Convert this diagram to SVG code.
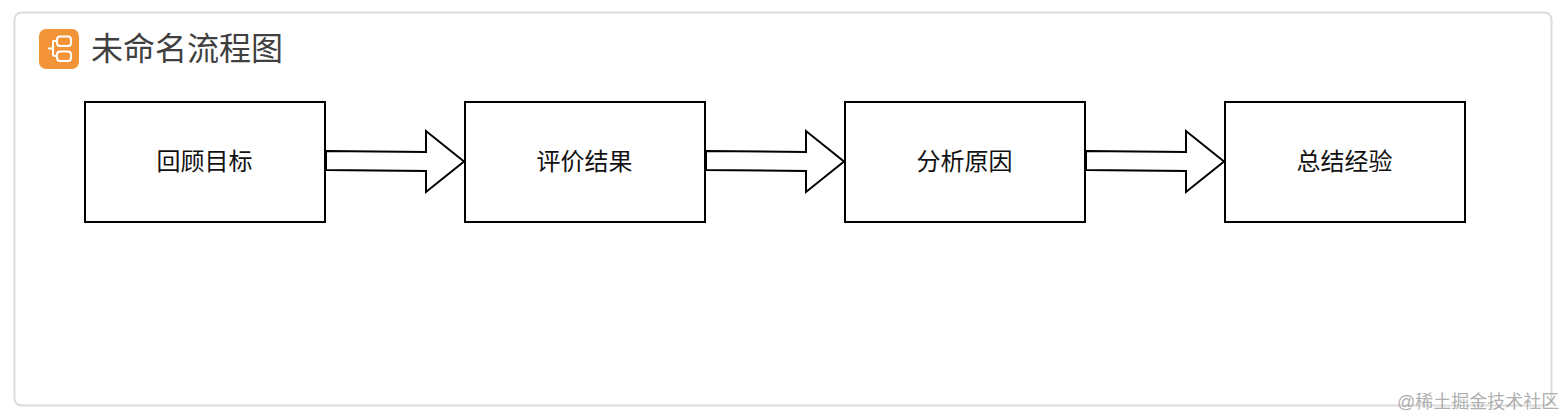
<svg xmlns="http://www.w3.org/2000/svg" width="1564" height="418" viewBox="0 0 1564 418">
  <style>
    text { font-family: "Liberation Sans", "Noto Sans CJK SC", sans-serif; }
    .box { fill: #fff; stroke: #000; stroke-width: 2; }
    .label { font-size: 24px; fill: #111; text-anchor: middle; }
    .arrow { fill: #fff; stroke: #000; stroke-width: 2; stroke-linejoin: miter; }
  </style>
  <rect width="1564" height="418" fill="#fff"/>
  <rect x="14.500" y="12.500" width="1537" height="393" rx="7" fill="#fff" stroke="#dcdcdc" stroke-width="2"/>
  <g id="title">
    <rect x="39" y="29" width="40" height="40" rx="7" fill="#f49439"/>
    <g fill="none" stroke="#fff" stroke-width="2">
      <rect x="57" y="36.500" width="14" height="9.500" rx="3"/>
      <rect x="57" y="51.500" width="14" height="9.500" rx="3"/>
      <path d="M57 41H53.500Q53 41 53 43V54Q53 56 55 56H57M48 48.500H53"/>
    </g>
    <text x="91" y="60" font-size="32" fill="#404040">未命名流程图</text>
  </g>
  <g id="connectors">
    <path class="arrow" d="M326 151L426 152V131L464 161.500L426 192V171L326 170Z"/>
    <path class="arrow" d="M706 151L806 152V131L844 161.500L806 192V171L706 170Z"/>
    <path class="arrow" d="M1086 151L1186 152V131L1224 161.500L1186 192V171L1086 170Z"/>
  </g>
  <g id="node-1">
    <rect class="box" x="85" y="102" width="240" height="120"/>
    <text class="label" x="204.500" y="170">回顾目标</text>
  </g>
  <g id="node-2">
    <rect class="box" x="465" y="102" width="240" height="120"/>
    <text class="label" x="584.500" y="170">评价结果</text>
  </g>
  <g id="node-3">
    <rect class="box" x="845" y="102" width="240" height="120"/>
    <text class="label" x="964.500" y="170">分析原因</text>
  </g>
  <g id="node-4">
    <rect class="box" x="1225" y="102" width="240" height="120"/>
    <text class="label" x="1344.500" y="170">总结经验</text>
  </g>
  <text x="1397" y="408" font-size="18" fill="#9a9a9a" fill-opacity="0.8">@稀土掘金技术社区</text>
</svg>
